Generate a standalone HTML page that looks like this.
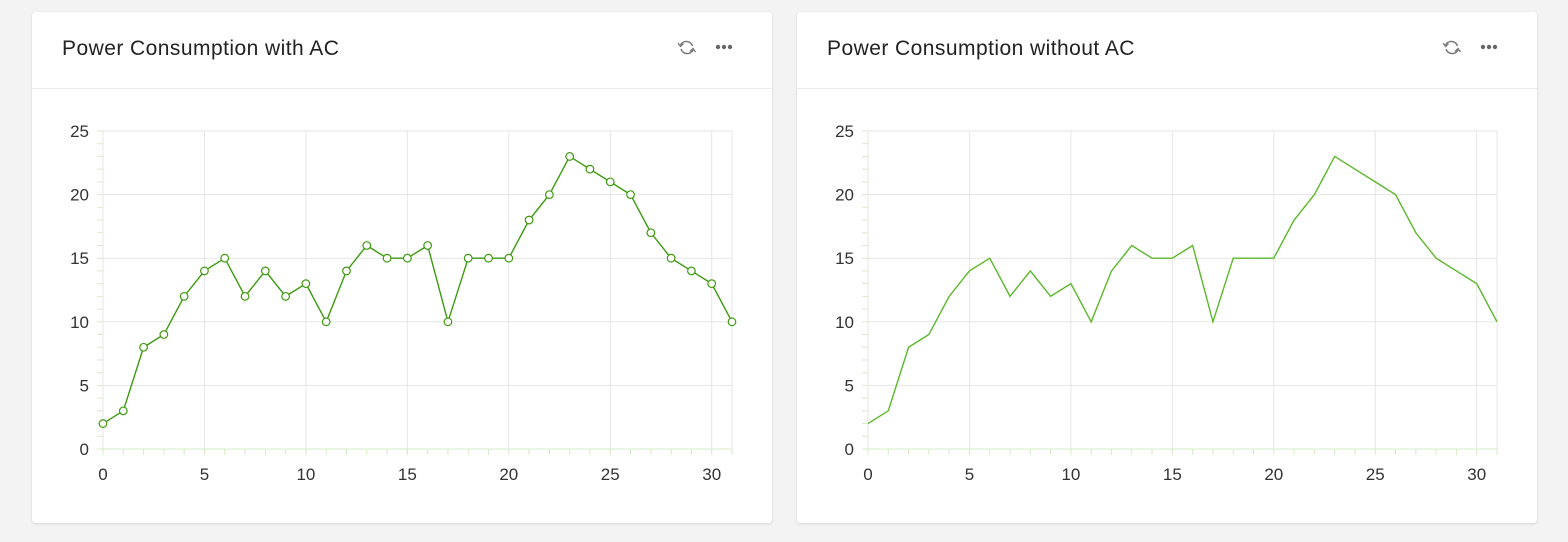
<!DOCTYPE html>
<html><head><meta charset="utf-8">
<style>
body{margin:0;background:#f3f3f3;width:1568px;height:542px;overflow:hidden;font-family:"Liberation Sans",sans-serif;}
.card{position:absolute;top:12px;width:740px;height:511px;background:#fff;border-radius:4px;box-shadow:0 1px 3px rgba(0,0,0,0.12);}
.hdr{position:absolute;left:0;top:0;right:0;height:76px;border-bottom:1px solid #ececec;}
.title{position:absolute;left:30px;top:25px;font-size:21px;color:#222;letter-spacing:0.45px;}
svg.chart{position:absolute;left:0;top:0;}
</style></head><body>
<div class="card" id="c1" style="left:32px">
 <div class="hdr"><div class="title">Power Consumption with AC</div></div>
</div>
<div class="card" id="c2" style="left:797px">
 <div class="hdr"><div class="title">Power Consumption without AC</div></div>
</div>
<script>
const xValues=[0,1,2,3,4,5,6,7,8,9,10,11,12,13,14,15,16,17,18,19,20,21,22,23,24,25,26,27,28,29,30,31];
const withAC=[2,3,8,9,12,14,15,12,14,12,13,10,14,16,15,15,16,10,15,15,15,18,20,23,22,21,20,17,15,14,13,10];
const withoutAC=[2,3,8,9,12,14,15,12,14,12,13,10,14,16,15,15,16,10,15,15,15,18,20,23,22,21,20,17,15,14,13,10];
const xTicks=[0,5,10,15,20,25,30];
const yTicks=[0,5,10,15,20,25];
const NS="http://www.w3.org/2000/svg";
function mk(p,t,a){const e=document.createElementNS(NS,t);for(const k in a)e.setAttribute(k,a[k]);p.appendChild(e);return e;}
function draw(card,vals,markers){
 const svg=mk(card,'svg',{class:'chart',width:740,height:511});
 
 
 const L=71,R=700,T=119,B=437;
 const xs=v=>L+(v-0)/31*(R-L), ys=v=>B-v/25*(B-T);
 const ic=mk(svg,'g',{});
 
 
 mk(ic,'path',{d:'M648.5 33 A6.5 6.5 0 0 1 660.5 34 M661 38 A6.5 6.5 0 0 1 649 37',fill:'none',stroke:'#777','stroke-width':1.5});
 mk(ic,'path',{d:'M646 31 L648.5 34.5 L651.5 31.5 M663.5 40 L661 36.5 L658 39.5',fill:'none',stroke:'#777','stroke-width':1.3});
 const mo=mk(svg,'g',{});
 
 
 [686,692,698].forEach(x=>mk(mo,'circle',{cx:x,cy:35,r:2.2,fill:'#666'}));
 for(let v=0;v<=31;v++){mk(svg,'line',{x1:xs(v),x2:xs(v),y1:B,y2:B+6,stroke:'#d4ecc4'});}
 for(let v=0;v<=25;v++){mk(svg,'line',{x1:L-6,x2:L,y1:ys(v),y2:ys(v),stroke:'#d4ecc4'});}
 yTicks.forEach(v=>{const g=mk(svg,'line',{x1:L,x2:R,y1:ys(v),y2:ys(v),stroke:'#e6e6e6'});
  
  const t=mk(svg,'text',{x:L-14,y:ys(v)+6,'text-anchor':'end','font-size':17,fill:'#333'});t.textContent=v;
  });
 xTicks.forEach(v=>{const g=mk(svg,'line',{x1:xs(v),x2:xs(v),y1:T,y2:B,stroke:'#e6e6e6'});
  
  const t=mk(svg,'text',{x:xs(v),y:B+31,'text-anchor':'middle','font-size':17,fill:'#333'});t.textContent=v;
  });
 mk(svg,'line',{x1:R,x2:R,y1:T,y2:B,stroke:'#e6e6e6'});
 mk(svg,'line',{x1:L,x2:L,y1:T,y2:B,stroke:'#e6e6e6'});
 mk(svg,'line',{x1:L,x2:R,y1:B,y2:B,stroke:'#d4ecc4'});
 const pts=vals.map((v,i)=>xs(xValues[i])+','+ys(v)).join(' ');
 const pl=mk(svg,'polyline',{points:pts,fill:'none',stroke:markers?'#3d9a0f':'#5bb82a','stroke-width':1.4});
 
 if(markers)vals.forEach((v,i)=>{const c=mk(svg,'circle',{cx:xs(xValues[i]),cy:ys(v),r:3.8,fill:'#fff',stroke:'#3d9a0f','stroke-width':1.2});
  });
}
draw(document.getElementById('c1'),withAC,true);
draw(document.getElementById('c2'),withoutAC,false);
</script>
</body></html>
